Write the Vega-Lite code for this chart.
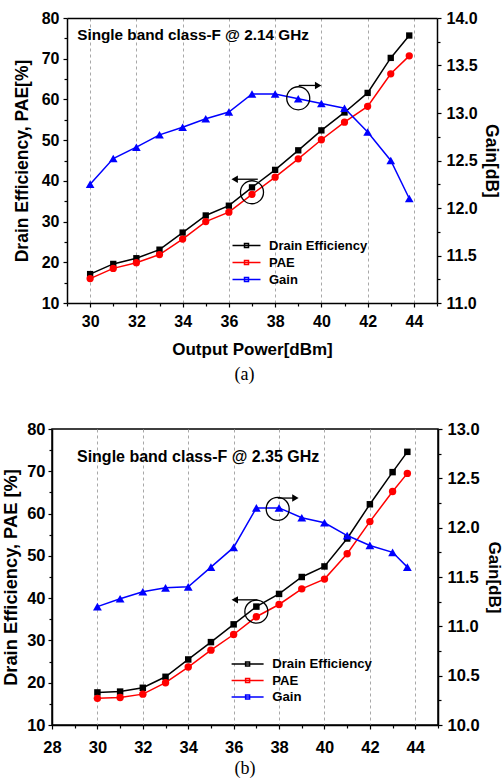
{
  "$schema": "https://vega.github.io/schema/vega-lite/v6.json",
  "padding": {"left": 0, "top": 10, "right": 0, "bottom": 0},
  "background": "white",
  "config": {
    "view": {"stroke": "black", "strokeWidth": 1.5},
    "font": "Liberation Sans",
    "axis": {
      "labelFont": "Liberation Sans", "labelFontWeight": "bold", "labelFontSize": 16, "labelColor": "black",
      "titleFont": "Liberation Sans", "titleFontWeight": "bold", "titleColor": "black",
      "domainColor": "black", "domainWidth": 1.5, "tickColor": "black", "tickWidth": 1.2,
      "labelFlush": false, "labelOverlap": false, "grid": false
    }
  },
  "datasets": {
    "a_eff": [
      {"p": 30, "series": "Drain Efficiency", "v": 17.1},
      {"p": 31, "series": "Drain Efficiency", "v": 19.6},
      {"p": 32, "series": "Drain Efficiency", "v": 21.0},
      {"p": 33, "series": "Drain Efficiency", "v": 23.1},
      {"p": 34, "series": "Drain Efficiency", "v": 27.3},
      {"p": 35, "series": "Drain Efficiency", "v": 31.5},
      {"p": 36, "series": "Drain Efficiency", "v": 33.9},
      {"p": 37, "series": "Drain Efficiency", "v": 38.4},
      {"p": 38, "series": "Drain Efficiency", "v": 42.7},
      {"p": 39, "series": "Drain Efficiency", "v": 47.5},
      {"p": 40, "series": "Drain Efficiency", "v": 52.4},
      {"p": 41, "series": "Drain Efficiency", "v": 56.8},
      {"p": 42, "series": "Drain Efficiency", "v": 61.6},
      {"p": 43, "series": "Drain Efficiency", "v": 70.2},
      {"p": 43.8, "series": "Drain Efficiency", "v": 75.7},
      {"p": 30, "series": "PAE", "v": 16.0},
      {"p": 31, "series": "PAE", "v": 18.5},
      {"p": 32, "series": "PAE", "v": 19.9},
      {"p": 33, "series": "PAE", "v": 21.9},
      {"p": 34, "series": "PAE", "v": 25.7},
      {"p": 35, "series": "PAE", "v": 30.0},
      {"p": 36, "series": "PAE", "v": 32.3},
      {"p": 37, "series": "PAE", "v": 36.7},
      {"p": 38, "series": "PAE", "v": 40.9},
      {"p": 39, "series": "PAE", "v": 45.4},
      {"p": 40, "series": "PAE", "v": 50.1},
      {"p": 41, "series": "PAE", "v": 54.4},
      {"p": 42, "series": "PAE", "v": 58.3},
      {"p": 43, "series": "PAE", "v": 66.3},
      {"p": 43.8, "series": "PAE", "v": 70.7}
    ],
    "a_gain": [
      {"p": 30, "series": "Gain", "g": 12.25},
      {"p": 31, "series": "Gain", "g": 12.52},
      {"p": 32, "series": "Gain", "g": 12.64},
      {"p": 33, "series": "Gain", "g": 12.77},
      {"p": 34, "series": "Gain", "g": 12.85},
      {"p": 35, "series": "Gain", "g": 12.94},
      {"p": 36, "series": "Gain", "g": 13.01},
      {"p": 37, "series": "Gain", "g": 13.2},
      {"p": 38, "series": "Gain", "g": 13.2},
      {"p": 39, "series": "Gain", "g": 13.15},
      {"p": 40, "series": "Gain", "g": 13.1},
      {"p": 41, "series": "Gain", "g": 13.05},
      {"p": 42, "series": "Gain", "g": 12.8},
      {"p": 43, "series": "Gain", "g": 12.5},
      {"p": 43.8, "series": "Gain", "g": 12.1}
    ],
    "a_txt": [{"p": 29.44, "v": 75.8, "label": "Single band class-F @ 2.14 GHz"}],
    "a_ann_l": [{"p": 37, "v": 37.2, "tx": 37.25, "hx": 36.25, "ay": 40.4}],
    "a_ann_r": [{"p": 39, "g": 13.155, "tx": 39.02, "hx": 39.86, "ay": 13.29}],
    "b_eff": [
      {"p": 30, "series": "Drain Efficiency", "v": 17.7},
      {"p": 31, "series": "Drain Efficiency", "v": 17.9},
      {"p": 32, "series": "Drain Efficiency", "v": 18.8},
      {"p": 33, "series": "Drain Efficiency", "v": 21.4},
      {"p": 34, "series": "Drain Efficiency", "v": 25.5},
      {"p": 35, "series": "Drain Efficiency", "v": 29.6},
      {"p": 36, "series": "Drain Efficiency", "v": 33.8},
      {"p": 37, "series": "Drain Efficiency", "v": 38.0},
      {"p": 38, "series": "Drain Efficiency", "v": 41.0},
      {"p": 39, "series": "Drain Efficiency", "v": 45.0},
      {"p": 40, "series": "Drain Efficiency", "v": 47.5},
      {"p": 41, "series": "Drain Efficiency", "v": 54.1},
      {"p": 42, "series": "Drain Efficiency", "v": 62.2},
      {"p": 43, "series": "Drain Efficiency", "v": 69.8},
      {"p": 43.65, "series": "Drain Efficiency", "v": 74.6},
      {"p": 30, "series": "PAE", "v": 16.3},
      {"p": 31, "series": "PAE", "v": 16.5},
      {"p": 32, "series": "PAE", "v": 17.3},
      {"p": 33, "series": "PAE", "v": 20.0},
      {"p": 34, "series": "PAE", "v": 23.7},
      {"p": 35, "series": "PAE", "v": 27.7},
      {"p": 36, "series": "PAE", "v": 31.4},
      {"p": 37, "series": "PAE", "v": 35.6},
      {"p": 38, "series": "PAE", "v": 38.5},
      {"p": 39, "series": "PAE", "v": 42.2},
      {"p": 40, "series": "PAE", "v": 44.5},
      {"p": 41, "series": "PAE", "v": 50.5},
      {"p": 42, "series": "PAE", "v": 58.1},
      {"p": 43, "series": "PAE", "v": 65.2},
      {"p": 43.65, "series": "PAE", "v": 69.5}
    ],
    "b_gain": [
      {"p": 30, "series": "Gain", "g": 11.2},
      {"p": 31, "series": "Gain", "g": 11.28},
      {"p": 32, "series": "Gain", "g": 11.35},
      {"p": 33, "series": "Gain", "g": 11.39},
      {"p": 34, "series": "Gain", "g": 11.4},
      {"p": 35, "series": "Gain", "g": 11.6},
      {"p": 36, "series": "Gain", "g": 11.8},
      {"p": 37, "series": "Gain", "g": 12.2},
      {"p": 38, "series": "Gain", "g": 12.2},
      {"p": 39, "series": "Gain", "g": 12.1},
      {"p": 40, "series": "Gain", "g": 12.05},
      {"p": 41, "series": "Gain", "g": 11.92},
      {"p": 42, "series": "Gain", "g": 11.82},
      {"p": 43, "series": "Gain", "g": 11.75},
      {"p": 43.65, "series": "Gain", "g": 11.6}
    ],
    "b_txt": [{"p": 29.1, "v": 73.45, "label": "Single band class-F @ 2.35 GHz"}],
    "b_ann_l": [{"p": 37, "v": 36.8, "tx": 37.05, "hx": 36.05, "ay": 39.6}],
    "b_ann_r": [{"p": 37.94, "g": 12.19, "tx": 37.94, "hx": 38.72, "ay": 12.3}]
  },
  "spacing": 36,
  "resolve": {"scale": {"color": "independent"}, "legend": {"color": "independent"}},
  "vconcat": [
    {
      "width": 385,
      "height": 285,
      "view": {"stroke": null},
      "title": {"text": "(a)", "orient": "bottom", "font": "Liberation Serif", "fontSize": 18, "fontWeight": "normal", "color": "black", "offset": 9},
      "resolve": {"scale": {"y": "independent"}},
      "layer": [
        {
          "resolve": {"axis": {"x": "independent", "y": "independent"}},
          "layer": [
            {
              "data": {"name": "a_eff"},
              "transform": [{"filter": "datum.series === 'Drain Efficiency'"}],
              "mark": {"type": "line", "strokeWidth": 1.5, "color": "#000000"},
              "encoding": {
                "x": {"field": "p", "type": "quantitative", "scale": {"domain": [29, 45], "range": [15, 385], "nice": false, "zero": false},
                  "axis": {"orient": "bottom", "values": [30, 32, 34, 36, 38, 40, 42, 44], "title": "Output Power[dBm]", "titleFontSize": 17, "titlePadding": 12, "labelPadding": 6, "tickSize": 4, "grid": true, "gridDash": [3, 3], "gridColor": "#a8a8a8", "gridWidth": 1}},
                "y": {"field": "v", "type": "quantitative", "scale": {"domain": [10, 80], "nice": false, "zero": false},
                  "axis": {"orient": "left", "offset": -15, "values": [10, 20, 30, 40, 50, 60, 70, 80], "title": "Drain Efficiency, PAE[%]", "titleFontSize": 17.5, "titlePadding": 10, "labelPadding": 4, "tickSize": 4}}
              }
            },
            {
              "data": {"name": "a_eff"},
              "transform": [{"filter": "datum.series === 'PAE'"}],
              "mark": {"type": "line", "strokeWidth": 1.5, "color": "#ff0000"},
              "encoding": {
                "x": {"field": "p", "type": "quantitative", "axis": null},
                "y": {"field": "v", "type": "quantitative", "axis": null}
              }
            },
            {
              "data": {"name": "a_eff"},
              "transform": [{"filter": "datum.series === 'Drain Efficiency'"}],
              "mark": {"type": "point", "shape": "square", "size": 40, "filled": true, "opacity": 1, "color": "#000000"},
              "encoding": {
                "x": {"field": "p", "type": "quantitative",
                  "axis": {"orient": "bottom", "values": [29, 31, 33, 35, 37, 39, 41, 43, 45], "labels": false, "domain": false, "tickSize": 3, "title": null, "grid": false}},
                "y": {"field": "v", "type": "quantitative",
                  "axis": {"orient": "left", "offset": -15, "values": [15, 25, 35, 45, 55, 65, 75], "labels": false, "domain": false, "tickSize": 3, "title": null}}
              }
            },
            {
              "data": {"name": "a_eff"},
              "transform": [{"filter": "datum.series === 'PAE'"}],
              "mark": {"type": "point", "shape": "circle", "size": 53, "filled": true, "opacity": 1, "color": "#ff0000"},
              "encoding": {
                "x": {"field": "p", "type": "quantitative", "axis": null},
                "y": {"field": "v", "type": "quantitative", "axis": null}
              }
            },
            {
              "data": {"name": "a_txt"},
              "mark": {"type": "text", "align": "left", "baseline": "middle", "font": "Liberation Sans", "fontWeight": "bold", "fontSize": 15.3, "color": "black"},
              "encoding": {
                "x": {"field": "p", "type": "quantitative",
                  "axis": {"orient": "top", "labels": false, "ticks": false, "title": null, "grid": false, "domain": true}},
                "y": {"field": "v", "type": "quantitative", "axis": null},
                "text": {"field": "label"}
              }
            },
            {
              "data": {"name": "a_ann_l"},
              "mark": {"type": "point", "shape": "circle", "size": 530, "filled": false, "color": "black", "strokeWidth": 1.3, "opacity": 1},
              "encoding": {
                "x": {"field": "p", "type": "quantitative", "axis": null},
                "y": {"field": "v", "type": "quantitative", "axis": null}
              }
            },
            {
              "data": {"name": "a_ann_l"},
              "mark": {"type": "rule", "color": "black", "strokeWidth": 1.3},
              "encoding": {
                "x": {"field": "tx", "type": "quantitative", "axis": null},
                "x2": {"field": "hx"},
                "y": {"field": "ay", "type": "quantitative", "axis": null}
              }
            },
            {
              "data": {"name": "a_ann_l"},
              "mark": {"type": "point", "shape": "triangle-left", "size": 55, "filled": true, "color": "black", "opacity": 1},
              "encoding": {
                "x": {"field": "hx", "type": "quantitative", "axis": null},
                "y": {"field": "ay", "type": "quantitative", "axis": null}
              }
            }
          ]
        },
        {
          "resolve": {"axis": {"y": "independent"}},
          "layer": [
            {
              "data": {"name": "a_gain"},
              "mark": {"type": "line", "strokeWidth": 1.5},
              "encoding": {
                "x": {"field": "p", "type": "quantitative", "axis": null},
                "y": {"field": "g", "type": "quantitative", "scale": {"domain": [11, 14], "nice": false, "zero": false},
                  "axis": {"orient": "right", "values": [11, 11.5, 12, 12.5, 13, 13.5, 14], "format": ".1f", "title": "Gain[dB]", "titleFontSize": 17.5, "titlePadding": 4, "labelPadding": 5, "tickSize": 4}},
                "color": {"field": "series", "type": "nominal", "scale": {"domain": ["Drain Efficiency", "PAE", "Gain"], "range": ["#000000", "#ff0000", "#0000ff"]},
                  "legend": {"orient": "none", "legendX": 164, "legendY": 221, "title": null, "padding": 0, "labelFont": "Liberation Sans", "labelFontSize": 13, "labelFontWeight": "bold", "labelColor": "black", "symbolType": "M-7,0H7M-1,-1H1V1H-1Z", "symbolSize": 16, "symbolStrokeWidth": 1.5, "symbolOffset": 24, "labelOffset": 16, "rowPadding": 3}}
              }
            },
            {
              "data": {"name": "a_gain"},
              "mark": {"type": "point", "shape": "triangle-up", "size": 75, "filled": true, "opacity": 1, "color": "#0000ff"},
              "encoding": {
                "x": {"field": "p", "type": "quantitative", "axis": null},
                "y": {"field": "g", "type": "quantitative",
                  "axis": {"orient": "right", "values": [11.25, 11.75, 12.25, 12.75, 13.25, 13.75], "labels": false, "domain": false, "tickSize": 3, "title": null}}
              }
            },
            {
              "data": {"name": "a_ann_r"},
              "mark": {"type": "point", "shape": "circle", "size": 530, "filled": false, "color": "black", "strokeWidth": 1.3, "opacity": 1},
              "encoding": {
                "x": {"field": "p", "type": "quantitative", "axis": null},
                "y": {"field": "g", "type": "quantitative", "axis": null}
              }
            },
            {
              "data": {"name": "a_ann_r"},
              "mark": {"type": "rule", "color": "black", "strokeWidth": 1.3},
              "encoding": {
                "x": {"field": "tx", "type": "quantitative", "axis": null},
                "x2": {"field": "hx"},
                "y": {"field": "ay", "type": "quantitative", "axis": null}
              }
            },
            {
              "data": {"name": "a_ann_r"},
              "mark": {"type": "point", "shape": "triangle-right", "size": 55, "filled": true, "color": "black", "opacity": 1},
              "encoding": {
                "x": {"field": "hx", "type": "quantitative", "axis": null},
                "y": {"field": "ay", "type": "quantitative", "axis": null}
              }
            }
          ]
        }
      ]
    },
    {
      "width": 386,
      "height": 296,
      "title": {"text": "(b)", "orient": "bottom", "font": "Liberation Serif", "fontSize": 18, "fontWeight": "normal", "color": "black", "offset": 4},
      "resolve": {"scale": {"y": "independent"}},
      "layer": [
        {
          "resolve": {"axis": {"x": "independent", "y": "independent"}},
          "layer": [
            {
              "data": {"name": "b_eff"},
              "transform": [{"filter": "datum.series === 'Drain Efficiency'"}],
              "mark": {"type": "line", "strokeWidth": 1.5, "color": "#000000"},
              "encoding": {
                "x": {"field": "p", "type": "quantitative", "scale": {"domain": [28, 45], "nice": false, "zero": false},
                  "axis": {"orient": "bottom", "values": [28, 30, 32, 34, 36, 38, 40, 42, 44], "title": null, "labelFontSize": 16.5, "labelPadding": 10, "tickSize": 4, "grid": true, "gridDash": [3, 3], "gridColor": "#a8a8a8", "gridWidth": 1}},
                "y": {"field": "v", "type": "quantitative", "scale": {"domain": [10, 80], "nice": false, "zero": false},
                  "axis": {"orient": "left", "values": [10, 20, 30, 40, 50, 60, 70, 80], "title": "Drain Efficiency, PAE [%]", "titleFontSize": 18.3, "labelFontSize": 16.5, "titlePadding": 6, "labelPadding": 3, "tickSize": 4}}
              }
            },
            {
              "data": {"name": "b_eff"},
              "transform": [{"filter": "datum.series === 'PAE'"}],
              "mark": {"type": "line", "strokeWidth": 1.5, "color": "#ff0000"},
              "encoding": {
                "x": {"field": "p", "type": "quantitative", "axis": null},
                "y": {"field": "v", "type": "quantitative", "axis": null}
              }
            },
            {
              "data": {"name": "b_eff"},
              "transform": [{"filter": "datum.series === 'Drain Efficiency'"}],
              "mark": {"type": "point", "shape": "square", "size": 42, "filled": true, "opacity": 1, "color": "#000000"},
              "encoding": {
                "x": {"field": "p", "type": "quantitative",
                  "axis": {"orient": "bottom", "values": [29, 31, 33, 35, 37, 39, 41, 43, 45], "labels": false, "domain": false, "tickSize": 3, "title": null, "grid": false}},
                "y": {"field": "v", "type": "quantitative",
                  "axis": {"orient": "left", "values": [15, 25, 35, 45, 55, 65, 75], "labels": false, "domain": false, "tickSize": 3, "title": null}}
              }
            },
            {
              "data": {"name": "b_eff"},
              "transform": [{"filter": "datum.series === 'PAE'"}],
              "mark": {"type": "point", "shape": "circle", "size": 55, "filled": true, "opacity": 1, "color": "#ff0000"},
              "encoding": {
                "x": {"field": "p", "type": "quantitative", "axis": null},
                "y": {"field": "v", "type": "quantitative", "axis": null}
              }
            },
            {
              "data": {"name": "b_txt"},
              "mark": {"type": "text", "align": "left", "baseline": "middle", "font": "Liberation Sans", "fontWeight": "bold", "fontSize": 16, "color": "black"},
              "encoding": {
                "x": {"field": "p", "type": "quantitative", "axis": null},
                "y": {"field": "v", "type": "quantitative", "axis": null},
                "text": {"field": "label"}
              }
            },
            {
              "data": {"name": "b_ann_l"},
              "mark": {"type": "point", "shape": "circle", "size": 530, "filled": false, "color": "black", "strokeWidth": 1.3, "opacity": 1},
              "encoding": {
                "x": {"field": "p", "type": "quantitative", "axis": null},
                "y": {"field": "v", "type": "quantitative", "axis": null}
              }
            },
            {
              "data": {"name": "b_ann_l"},
              "mark": {"type": "rule", "color": "black", "strokeWidth": 1.3},
              "encoding": {
                "x": {"field": "tx", "type": "quantitative", "axis": null},
                "x2": {"field": "hx"},
                "y": {"field": "ay", "type": "quantitative", "axis": null}
              }
            },
            {
              "data": {"name": "b_ann_l"},
              "mark": {"type": "point", "shape": "triangle-left", "size": 55, "filled": true, "color": "black", "opacity": 1},
              "encoding": {
                "x": {"field": "hx", "type": "quantitative", "axis": null},
                "y": {"field": "ay", "type": "quantitative", "axis": null}
              }
            }
          ]
        },
        {
          "resolve": {"axis": {"y": "independent"}},
          "layer": [
            {
              "data": {"name": "b_gain"},
              "mark": {"type": "line", "strokeWidth": 1.5},
              "encoding": {
                "x": {"field": "p", "type": "quantitative", "axis": null},
                "y": {"field": "g", "type": "quantitative", "scale": {"domain": [10, 13], "nice": false, "zero": false},
                  "axis": {"orient": "right", "values": [10, 10.5, 11, 11.5, 12, 12.5, 13], "format": ".1f", "title": "Gain[dB]", "titleFontSize": 17, "labelFontSize": 16.5, "titlePadding": 5, "labelPadding": 5, "tickSize": 4}},
                "color": {"field": "series", "type": "nominal", "scale": {"domain": ["Drain Efficiency", "PAE", "Gain"], "range": ["#000000", "#ff0000", "#0000ff"]},
                  "legend": {"orient": "none", "legendX": 163, "legendY": 228.5, "title": null, "padding": 0, "labelFont": "Liberation Sans", "labelFontSize": 13.2, "labelFontWeight": "bold", "labelColor": "black", "symbolType": "M-8,0H8M-1,-1H1V1H-1Z", "symbolSize": 16, "symbolStrokeWidth": 1.5, "symbolOffset": 26, "labelOffset": 18, "rowPadding": 2.5}}
              }
            },
            {
              "data": {"name": "b_gain"},
              "mark": {"type": "point", "shape": "triangle-up", "size": 78, "filled": true, "opacity": 1, "color": "#0000ff"},
              "encoding": {
                "x": {"field": "p", "type": "quantitative", "axis": null},
                "y": {"field": "g", "type": "quantitative",
                  "axis": {"orient": "right", "values": [10.25, 10.75, 11.25, 11.75, 12.25, 12.75], "labels": false, "domain": false, "tickSize": 3, "title": null}}
              }
            },
            {
              "data": {"name": "b_ann_r"},
              "mark": {"type": "point", "shape": "circle", "size": 530, "filled": false, "color": "black", "strokeWidth": 1.3, "opacity": 1},
              "encoding": {
                "x": {"field": "p", "type": "quantitative", "axis": null},
                "y": {"field": "g", "type": "quantitative", "axis": null}
              }
            },
            {
              "data": {"name": "b_ann_r"},
              "mark": {"type": "rule", "color": "black", "strokeWidth": 1.3},
              "encoding": {
                "x": {"field": "tx", "type": "quantitative", "axis": null},
                "x2": {"field": "hx"},
                "y": {"field": "ay", "type": "quantitative", "axis": null}
              }
            },
            {
              "data": {"name": "b_ann_r"},
              "mark": {"type": "point", "shape": "triangle-right", "size": 55, "filled": true, "color": "black", "opacity": 1},
              "encoding": {
                "x": {"field": "hx", "type": "quantitative", "axis": null},
                "y": {"field": "ay", "type": "quantitative", "axis": null}
              }
            }
          ]
        }
      ]
    }
  ]
}
